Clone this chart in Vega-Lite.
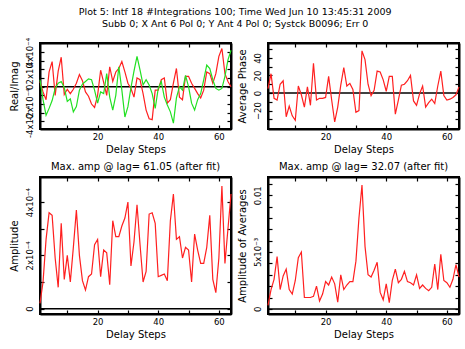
{
"$schema":"https://vega.github.io/schema/vega-lite/v6.json",
"background":"white",
"padding":{"left":7,"top":6,"right":4,"bottom":4},
"title":{"text":["Plot 5: Intf 18 #Integrations 100; Time Wed Jun 10 13:45:31 2009","Subb 0; X Ant 6 Pol 0; Y Ant 4 Pol 0; Systck B0096; Err 0"],"anchor":"middle","fontSize":9.5,"lineHeight":12,"offset":8},
"datasets":{"d":[
{"x":1,"re":0.6e-4,"im":0.8e-4,"ph":5,"amp":0.2e-4,"avg":0.3e-3},
{"x":2,"re":-0.6e-4,"im":-1.5e-4,"ph":22,"amp":1.0e-4,"avg":1.7e-3},
{"x":3,"re":-1.5e-4,"im":-3.3e-4,"ph":-6,"amp":2.6e-4,"avg":2.6e-3},
{"x":4,"re":1.7e-4,"im":-2.5e-4,"ph":-8,"amp":3.6e-4,"avg":4.6e-3},
{"x":5,"re":2.9e-4,"im":-1.6e-4,"ph":10,"amp":3.5e-4,"avg":1.7e-3},
{"x":6,"re":-1.0e-4,"im":-0.2e-4,"ph":14,"amp":1.9e-4,"avg":2.9e-3},
{"x":7,"re":1.8e-4,"im":0.4e-4,"ph":-27,"amp":0.8e-4,"avg":3.5e-3},
{"x":8,"re":3.4e-4,"im":0.6e-4,"ph":-15,"amp":3.2e-4,"avg":1.7e-3},
{"x":9,"re":-0.9e-4,"im":-0.1e-4,"ph":-26,"amp":1.1e-4,"avg":1.3e-3},
{"x":10,"re":-0.3e-4,"im":-1.7e-4,"ph":-31,"amp":2.0e-4,"avg":2.5e-3},
{"x":11,"re":-0.8e-4,"im":-1.4e-4,"ph":8,"amp":1.0e-4,"avg":4.5e-3},
{"x":12,"re":-0.3e-4,"im":-2.9e-4,"ph":-2,"amp":2.3e-4,"avg":5.0e-3},
{"x":13,"re":0.4e-4,"im":-2.3e-4,"ph":-16,"amp":3.7e-4,"avg":1.0e-3},
{"x":14,"re":1.4e-4,"im":-0.4e-4,"ph":7,"amp":2.0e-4,"avg":1.0e-3},
{"x":15,"re":0.7e-4,"im":0.3e-4,"ph":-14,"amp":1.05e-4,"avg":1.0e-3},
{"x":16,"re":-0.6e-4,"im":0.6e-4,"ph":34,"amp":0.7e-4,"avg":1.1e-3},
{"x":17,"re":-1.1e-4,"im":0.9e-4,"ph":-8,"amp":1.2e-4,"avg":2.0e-3},
{"x":18,"re":-2.0e-4,"im":0.8e-4,"ph":-6,"amp":1.3e-4,"avg":0.7e-3},
{"x":19,"re":-2.4e-4,"im":-0.4e-4,"ph":-6,"amp":2.4e-4,"avg":1.3e-3},
{"x":20,"re":-1.0e-4,"im":-1.9e-4,"ph":-5,"amp":2.6e-4,"avg":2.4e-3},
{"x":21,"re":1.9e-4,"im":-0.6e-4,"ph":19,"amp":1.2e-4,"avg":2.1e-3},
{"x":22,"re":0.5e-4,"im":-0.8e-4,"ph":-8,"amp":2.2e-4,"avg":2.8e-3},
{"x":23,"re":-1.0e-4,"im":1.5e-4,"ph":-33,"amp":2.1e-4,"avg":2.2e-3},
{"x":24,"re":2.3e-4,"im":-1.2e-4,"ph":-16,"amp":0.9e-4,"avg":0.6e-3},
{"x":25,"re":0.6e-4,"im":-2.7e-4,"ph":9,"amp":3.3e-4,"avg":3.0e-3},
{"x":26,"re":1.7e-4,"im":-1.0e-4,"ph":29,"amp":2.7e-4,"avg":1.7e-3},
{"x":27,"re":2.1e-4,"im":2.3e-4,"ph":8,"amp":2.7e-4,"avg":2.1e-3},
{"x":28,"re":2.9e-4,"im":-0.4e-4,"ph":11,"amp":3.1e-4,"avg":2.4e-3},
{"x":29,"re":1.7e-4,"im":-3.5e-4,"ph":4,"amp":3.4e-4,"avg":2.4e-3},
{"x":30,"re":0.4e-4,"im":-2.3e-4,"ph":-22,"amp":4.0e-4,"avg":4.2e-3},
{"x":31,"re":-0.2e-4,"im":-0.1e-4,"ph":-20,"amp":1.6e-4,"avg":8.0e-3},
{"x":32,"re":-1.2e-4,"im":1.8e-4,"ph":48,"amp":2.5e-4,"avg":10.9e-3},
{"x":33,"re":1.0e-4,"im":3.5e-4,"ph":38,"amp":3.9e-4,"avg":5.5e-3},
{"x":34,"re":0.8e-4,"im":1.9e-4,"ph":10,"amp":2.4e-4,"avg":3.0e-3},
{"x":35,"re":-0.8e-4,"im":0.2e-4,"ph":-3,"amp":1.0e-4,"avg":2.8e-3},
{"x":36,"re":-2.7e-4,"im":0.8e-4,"ph":3,"amp":1.4e-4,"avg":3.4e-3},
{"x":37,"re":-3.7e-4,"im":0.2e-4,"ph":25,"amp":3.55e-4,"avg":4.1e-3},
{"x":38,"re":-3.8e-4,"im":-0.8e-4,"ph":24,"amp":3.6e-4,"avg":1.45e-3},
{"x":39,"re":-0.4e-4,"im":-2.5e-4,"ph":15,"amp":3.2e-4,"avg":0.8e-3},
{"x":40,"re":-0.4e-4,"im":-0.2e-4,"ph":2,"amp":1.2e-4,"avg":2.2e-3},
{"x":41,"re":0.8e-4,"im":0.6e-4,"ph":19,"amp":1.25e-4,"avg":0.55e-3},
{"x":42,"re":1.0e-4,"im":-1.2e-4,"ph":19,"amp":1.3e-4,"avg":2.5e-3},
{"x":43,"re":-1.9e-4,"im":-2.1e-4,"ph":-24,"amp":1.05e-4,"avg":3.5e-3},
{"x":44,"re":-1.5e-4,"im":-2.9e-4,"ph":-8,"amp":3.3e-4,"avg":2.3e-3},
{"x":45,"re":0.4e-4,"im":-4.2e-4,"ph":9,"amp":4.3e-4,"avg":2.6e-3},
{"x":46,"re":2.1e-4,"im":-1.3e-4,"ph":10,"amp":2.6e-4,"avg":3.3e-3},
{"x":47,"re":-1.2e-4,"im":0,"ph":14,"amp":2.7e-4,"avg":2.4e-3},
{"x":48,"re":-1.5e-4,"im":-0.4e-4,"ph":20,"amp":1.9e-4,"avg":2.3e-3},
{"x":49,"re":1.2e-4,"im":1.3e-4,"ph":-9,"amp":2.3e-4,"avg":2.1e-3},
{"x":50,"re":1.2e-4,"im":0,"ph":-14,"amp":2.2e-4,"avg":3.0e-3},
{"x":51,"re":0.4e-4,"im":-1.9e-4,"ph":-1,"amp":1.0e-4,"avg":1.8e-3},
{"x":52,"re":-0.2e-4,"im":-2.7e-4,"ph":8,"amp":2.8e-4,"avg":2.1e-3},
{"x":53,"re":-0.8e-4,"im":-1.5e-4,"ph":-16,"amp":2.2e-4,"avg":1.8e-3},
{"x":54,"re":-1.3e-4,"im":-0.8e-4,"ph":-11,"amp":1.7e-4,"avg":1.6e-3},
{"x":55,"re":-0.4e-4,"im":0.8e-4,"ph":-7,"amp":1.7e-4,"avg":1.9e-3},
{"x":56,"re":1.7e-4,"im":2.5e-4,"ph":-12,"amp":2.3e-4,"avg":3.95e-3},
{"x":57,"re":1.5e-4,"im":2.1e-4,"ph":8,"amp":3.5e-4,"avg":1.7e-3},
{"x":58,"re":0.4e-4,"im":0.8e-4,"ph":25,"amp":1.1e-4,"avg":4.8e-3},
{"x":59,"re":1.5e-4,"im":-0.2e-4,"ph":-3,"amp":0.6e-4,"avg":2.5e-3},
{"x":60,"re":3.5e-4,"im":-0.4e-4,"ph":-8,"amp":1.9e-4,"avg":2.3e-3},
{"x":61,"re":4.4e-4,"im":-0.2e-4,"ph":-7,"amp":4.6e-4,"avg":1.9e-3},
{"x":62,"re":1.5e-4,"im":1.2e-4,"ph":-5,"amp":1.7e-4,"avg":2.6e-3},
{"x":63,"re":0.6e-4,"im":3.1e-4,"ph":-2,"amp":3.0e-4,"avg":3.9e-3},
{"x":64,"re":0,"im":4.2e-4,"ph":7,"amp":4.3e-4,"avg":2.8e-3}
]},
"columns":2,
"align":"each",
"spacing":{"row":5,"column":0},
"concat":[
{"width":191,"height":86,
"layer":[
{"data":{"values":[{}]},"mark":{"type":"rule","color":"black","strokeWidth":1.5},
"encoding":{
"x":{"datum":1,"type":"quantitative","scale":{"domain":[1,64],"nice":false,"zero":false},"axis":{"orient":"top","values":[10,20,30,40,50,60],"labels":false,"title":null,"minExtent":0}},
"x2":{"datum":64},
"y":{"datum":0,"type":"quantitative","scale":{"domain":[-4.88e-4,5.04e-4],"nice":false,"zero":false},"axis":{"orient":"right","values":[-0.0004,-0.0003,-0.0002,-0.0001,0,0.0001,0.0002,0.0003,0.0004,0.0005],"labels":false,"title":null,"minExtent":0}}}},
{"data":{"name":"d"},"mark":{"type":"line","color":"#ff2020","strokeWidth":1.2},
"encoding":{
"x":{"field":"x","type":"quantitative","scale":{"domain":[1,64],"nice":false,"zero":false},"axis":{"orient":"bottom","values":[10,20,30,40,50,60],"labelExpr":"datum.value % 20 === 0 ? datum.label : ''","labelPadding":7,"title":"Delay Steps","titlePadding":4}},
"y":{"field":"re","type":"quantitative","scale":{"domain":[-4.88e-4,5.04e-4],"nice":false,"zero":false},"axis":{"orient":"left","minExtent":0,"values":[-0.0004,-0.0003,-0.0002,-0.0001,0,0.0001,0.0002,0.0003,0.0004,0.0005],"labelExpr":"abs(round(datum.value*1e4)) % 2 === 0 ? (round(datum.value*1e4) === 0 ? '0' : round(datum.value*1e4) + 'x10⁻⁴') : ''","labelAngle":270,"labelAlign":"center","labelBaseline":"bottom","labelPadding":10,"labelOverlap":false,"title":"Real/Imag","titlePadding":6}}}},
{"data":{"name":"d"},"mark":{"type":"line","color":"#22e022","strokeWidth":1.2},
"encoding":{
"x":{"field":"x","type":"quantitative","scale":{"domain":[1,64],"nice":false,"zero":false},"axis":null},
"y":{"field":"im","type":"quantitative","scale":{"domain":[-4.88e-4,5.04e-4],"nice":false,"zero":false},"axis":null}}}
],
"resolve":{"axis":{"x":"independent","y":"independent"}}},
{"width":191,"height":86,
"layer":[
{"data":{"values":[{}]},"mark":{"type":"rule","color":"black","strokeWidth":1.5},
"encoding":{
"x":{"datum":1,"type":"quantitative","scale":{"domain":[1,64],"nice":false,"zero":false},"axis":{"orient":"top","values":[10,20,30,40,50,60],"labels":false,"title":null,"minExtent":0}},
"x2":{"datum":64},
"y":{"datum":0,"type":"quantitative","scale":{"domain":[-41,57],"nice":false,"zero":false},"axis":{"orient":"right","values":[-30,-20,-10,0,10,20,30,40,50],"labels":false,"title":null,"minExtent":0}}}},
{"data":{"name":"d"},"mark":{"type":"line","color":"#ff2020","strokeWidth":1.2},
"encoding":{
"x":{"field":"x","type":"quantitative","scale":{"domain":[1,64],"nice":false,"zero":false},"axis":{"orient":"bottom","values":[10,20,30,40,50,60],"labelExpr":"datum.value % 20 === 0 ? datum.label : ''","labelPadding":7,"title":"Delay Steps","titlePadding":4}},
"y":{"field":"ph","type":"quantitative","scale":{"domain":[-41,57],"nice":false,"zero":false},"axis":{"orient":"left","minExtent":0,"values":[-30,-20,-10,0,10,20,30,40,50],"labelExpr":"datum.value % 20 === 0 ? datum.label : ''","labelAngle":270,"labelAlign":"center","labelBaseline":"bottom","labelPadding":10,"labelOverlap":false,"title":"Average Phase","titlePadding":6}}}}
],
"resolve":{"axis":{"x":"independent","y":"independent"}}},
{"width":191,"height":137,
"title":{"text":"Max. amp @ lag= 61.05 (after fit)","frame":"group","anchor":"middle","offset":4},
"layer":[
{"data":{"values":[{}]},"mark":{"type":"rule","color":"black","strokeWidth":1.5},
"encoding":{
"x":{"datum":1,"type":"quantitative","scale":{"domain":[1,64],"nice":false,"zero":false},"axis":{"orient":"top","values":[10,20,30,40,50,60],"labels":false,"title":null,"minExtent":0}},
"x2":{"datum":64},
"y":{"datum":0,"type":"quantitative","scale":{"domain":[-0.2e-4,4.94e-4],"nice":false,"zero":false},"axis":{"orient":"right","values":[0,0.0001,0.0002,0.0003,0.0004],"labels":false,"title":null,"minExtent":0}}}},
{"data":{"name":"d"},"mark":{"type":"line","color":"#ff2020","strokeWidth":1.2},
"encoding":{
"x":{"field":"x","type":"quantitative","scale":{"domain":[1,64],"nice":false,"zero":false},"axis":{"orient":"bottom","values":[10,20,30,40,50,60],"labelExpr":"datum.value % 20 === 0 ? datum.label : ''","labelPadding":7,"title":"Delay Steps","titlePadding":4}},
"y":{"field":"amp","type":"quantitative","scale":{"domain":[-0.2e-4,4.94e-4],"nice":false,"zero":false},"axis":{"orient":"left","minExtent":0,"values":[0,0.0001,0.0002,0.0003,0.0004],"labelExpr":"round(datum.value*1e4) % 2 === 0 ? (round(datum.value*1e4) === 0 ? '0' : round(datum.value*1e4) + 'x10⁻⁴') : ''","labelAngle":270,"labelAlign":"center","labelBaseline":"bottom","labelPadding":10,"labelOverlap":false,"title":"Amplitude","titlePadding":6}}}}
],
"resolve":{"axis":{"x":"independent","y":"independent"}}},
{"width":191,"height":137,
"title":{"text":"Max. amp @ lag= 32.07 (after fit)","frame":"group","anchor":"middle","offset":4},
"layer":[
{"data":{"values":[{}]},"mark":{"type":"rule","color":"black","strokeWidth":1.5},
"encoding":{
"x":{"datum":1,"type":"quantitative","scale":{"domain":[1,64],"nice":false,"zero":false},"axis":{"orient":"top","values":[10,20,30,40,50,60],"labels":false,"title":null,"minExtent":0}},
"x2":{"datum":64},
"y":{"datum":0,"type":"quantitative","scale":{"domain":[-0.00045,0.0116],"nice":false,"zero":false},"axis":{"orient":"right","values":[0,0.001,0.002,0.003,0.004,0.005,0.006,0.007,0.008,0.009,0.01,0.011],"labels":false,"title":null,"minExtent":0}}}},
{"data":{"name":"d"},"mark":{"type":"line","color":"#ff2020","strokeWidth":1.2},
"encoding":{
"x":{"field":"x","type":"quantitative","scale":{"domain":[1,64],"nice":false,"zero":false},"axis":{"orient":"bottom","values":[10,20,30,40,50,60],"labelExpr":"datum.value % 20 === 0 ? datum.label : ''","labelPadding":7,"title":"Delay Steps","titlePadding":4}},
"y":{"field":"avg","type":"quantitative","scale":{"domain":[-0.00045,0.0116],"nice":false,"zero":false},"axis":{"orient":"left","minExtent":0,"values":[0,0.001,0.002,0.003,0.004,0.005,0.006,0.007,0.008,0.009,0.01,0.011],"labelExpr":"round(datum.value*1e3) === 0 ? '0' : (round(datum.value*1e3) === 5 ? '5x10⁻³' : (round(datum.value*1e3) === 10 ? '0.01' : ''))","labelAngle":270,"labelAlign":"center","labelBaseline":"bottom","labelPadding":10,"labelOverlap":false,"title":"Amplitude of Averages","titlePadding":6}}}}
],
"resolve":{"axis":{"x":"independent","y":"independent"}}}
],
"config":{
"view":{"stroke":"black","strokeWidth":2},
"axis":{"domain":true,"domainColor":"black","domainWidth":2,"grid":false,"ticks":true,"tickSize":-4,"tickColor":"black","tickWidth":1.2,"labelColor":"black","titleColor":"black","labelFont":"DejaVu Sans","titleFont":"DejaVu Sans","labelFontSize":8.5,"titleFontSize":10,"titleFontWeight":"normal"},
"title":{"font":"DejaVu Sans","fontSize":10,"fontWeight":"normal","color":"black"}
}
}
